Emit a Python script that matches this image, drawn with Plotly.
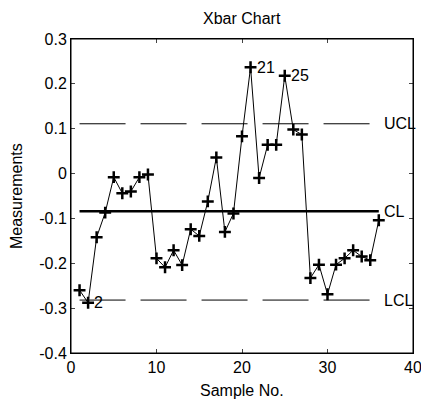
import plotly.graph_objects as go

sample_no = list(range(1, 37))
xbar = [-0.260, -0.288, -0.142, -0.087, -0.008, -0.044, -0.040, -0.008, -0.002,
        -0.189, -0.209, -0.171, -0.204, -0.124, -0.139, -0.062, 0.036, -0.130,
        -0.089, 0.083, 0.237, -0.010, 0.064, 0.064, 0.218, 0.098, 0.087,
        -0.233, -0.203, -0.269, -0.203, -0.189, -0.171, -0.185, -0.193, -0.104]
UCL = 0.111
CL = -0.084
LCL = -0.282
limit_labels = ["UCL", "CL", "LCL"]
flagged = [2, 21, 25]
y_ticks = [-0.4, -0.3, -0.2, -0.1, 0, 0.1, 0.2, 0.3]
y_tick_text = ["-0.4", "-0.3", "-0.2", "-0.1", "0", "0.1", "0.2", "0.3"]
x_ticks = [0, 10, 20, 30, 40]

FONT = "Liberation Sans, Arial, sans-serif"
fs = 16

fig = go.Figure()
x0, x1 = sample_no[0], sample_no[-1]
fig.add_trace(go.Scatter(x=[x0, x1], y=[UCL, UCL], mode="lines",
                         line=dict(color="black", width=1, dash="46px,15px"), hoverinfo="skip"))
fig.add_trace(go.Scatter(x=[x0, x1], y=[LCL, LCL], mode="lines",
                         line=dict(color="black", width=1, dash="46px,15px"), hoverinfo="skip"))
fig.add_trace(go.Scatter(x=[x0, x1], y=[CL, CL], mode="lines",
                         line=dict(color="black", width=2.5), hoverinfo="skip"))
fig.add_trace(go.Scatter(x=sample_no, y=xbar, mode="lines+markers",
                         line=dict(color="black", width=1),
                         marker=dict(symbol="cross-thin", size=8.5, line=dict(color="black", width=2.5))))

for lab, val in zip(limit_labels, [UCL, CL, LCL]):
    fig.add_annotation(x=x1, y=val, text=lab, showarrow=False, xanchor="left",
                       yanchor="middle", xshift=3, font=dict(family=FONT, size=fs, color="black"))
for i in flagged:
    fig.add_annotation(x=i, y=xbar[i - 1], text=str(i), showarrow=False, xanchor="left",
                       yanchor="middle", xshift=4, font=dict(family=FONT, size=fs, color="black"))

fig.add_annotation(text="Xbar Chart", xref="paper", yref="paper", x=0.5, y=1,
                   yanchor="bottom", yshift=10, showarrow=False,
                   font=dict(family=FONT, size=fs, color="black"))
fig.add_annotation(text="Sample No.", xref="paper", yref="paper", x=0.5, y=0,
                   yanchor="top", yshift=-27, showarrow=False,
                   font=dict(family=FONT, size=fs, color="black"))
fig.add_annotation(text="Measurements", xref="paper", yref="paper", x=0, y=0.5,
                   xanchor="center", xshift=-55, textangle=-90, showarrow=False,
                   font=dict(family=FONT, size=fs, color="black"))

fig.add_shape(type="rect", xref="paper", yref="paper", x0=0, y0=0, x1=1, y1=1,
              line=dict(color="black", width=1), layer="above")

fig.update_layout(
    width=421, height=403, margin=dict(l=71, r=8, t=39, b=50, autoexpand=False),
    paper_bgcolor="white", plot_bgcolor="white", showlegend=False,
    font=dict(family=FONT, size=fs, color="black"),
    xaxis=dict(range=[0, 40], tickvals=x_ticks, ticks="inside", ticklen=4,
               showline=True, linecolor="black", linewidth=1, mirror="ticks",
               showgrid=False, zeroline=False, tickfont=dict(size=fs),
               ticklabeloverflow="allow", automargin=False),
    yaxis=dict(range=[-0.4, 0.3], tickvals=y_ticks, ticktext=y_tick_text,
               ticks="inside", ticklen=4, showline=True, linecolor="black",
               linewidth=1, mirror="ticks", showgrid=False, zeroline=False,
               tickfont=dict(size=fs), ticklabeloverflow="allow", automargin=False),
)
fig.write_html("out.html")
